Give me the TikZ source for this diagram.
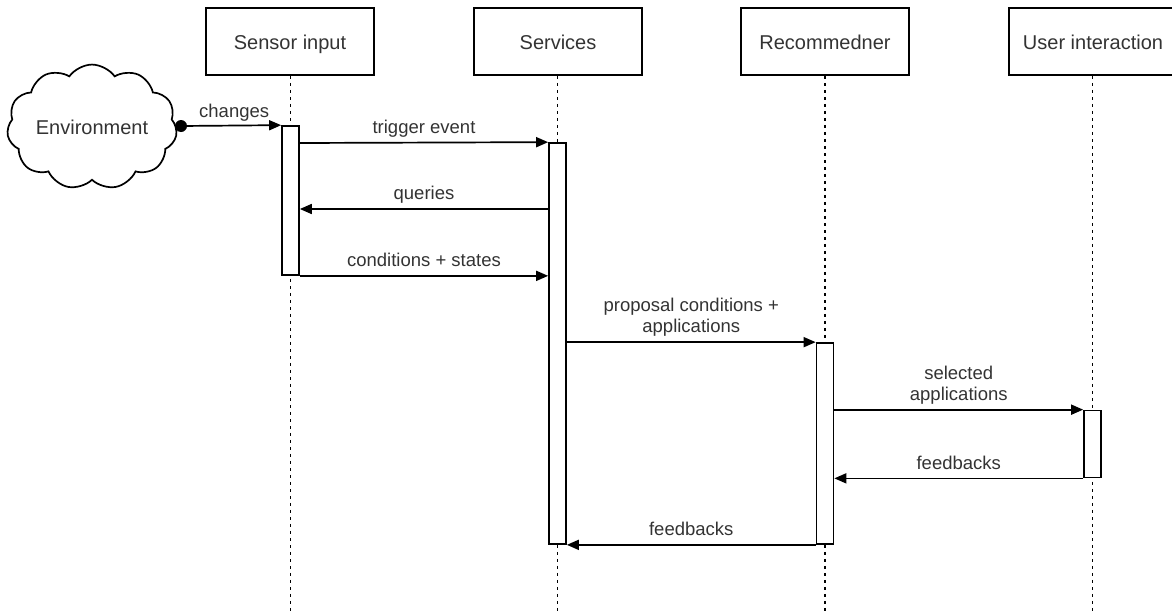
\documentclass[tikz,border=0pt]{standalone}
\usepackage{fontspec}
\setmainfont{Liberation Sans}
\usetikzlibrary{arrows.meta,shapes.symbols}
\definecolor{txt}{HTML}{333333}
\tikzset{
  head/.style={draw, line width=1.7pt, minimum width=168pt, minimum height=67pt,
    inner sep=0pt, text height=20pt, text depth=4pt, text=txt, font=\fontsize{20}{23}\selectfont},
  bar/.style={draw, fill=white, line width=1.7pt, minimum width=17pt, inner sep=0pt},
  lifeline/.style={line width=1.6pt, dash pattern=on 3.5pt off 3.5pt},
  msg/.style={line width=1.7pt, -{Triangle[length=12pt,width=10pt]}},
  lbl/.style={text=txt, font=\fontsize{18.5}{21}\selectfont, align=center, inner sep=0pt, text depth=4pt},
}
\begin{document}
\begin{tikzpicture}[x=1pt,y=-1pt]
\useasboundingbox (0,0) rectangle (1172,613);
\begin{scope}
\clip (0,0) rectangle (1172,613);

% participants
\node[head] (sen) at (290,41.5) {Sensor input};
\node[head] (svc) at (558,41.5) {Services};
\node[head] (rec) at (825,41.5) {Recommedner};
\node[head] (usr) at (1093,41.5) {User interaction};

% lifeline ends
\coordinate (senE) at (290.5,613);
\coordinate (svcE) at (557.5,613);
\coordinate (recE) at (825,613);
\coordinate (usrE) at (1092.5,613);
\draw[lifeline] (sen.south -| senE) -- (senE);
\draw[lifeline] (svc.south -| svcE) -- (svcE);
\draw[lifeline] (rec.south -| recE) -- (recE);
\draw[lifeline] (usr.south -| usrE) -- (usrE);

% activation bars
\node[bar, minimum height=149pt] (senbar) at (290.5,200.5) {};
\node[bar, minimum height=401pt] (svcbar) at (557.5,343.5) {};
\node[bar, minimum height=201pt] (recbar) at (825,443.5) {};
\node[bar, minimum height=67pt] (usrbar) at (1092.5,444) {};

% environment
\node[cloud, draw, line width=1.7pt, cloud puffs=11, cloud puff arc=110, aspect=1.5,
  minimum width=170pt, minimum height=114pt, inner sep=0pt, text=txt,
  font=\fontsize{20}{23}\selectfont] (env) at (92,127) {Environment};
\node[circle, fill, inner sep=0pt, minimum size=12pt] (dot) at (181,126) {};

% messages
\draw[msg] (dot) -- node[lbl, above=3pt] {changes} (senbar.north west);
\draw[msg] (senbar.east |- 0,143) -- node[lbl, above=4.5pt] {trigger event} (svcbar.north west);
\coordinate (q) at (0,209);
\draw[msg] (svcbar.west |- q) -- node[lbl, above=4.5pt] {queries} (senbar.east |- q);
\draw[msg] (senbar.south east) -- node[lbl, above=4.5pt] {conditions + states} (svcbar.west |- senbar.south);
\draw[msg] (svcbar.east |- recbar.north) -- node[lbl, above=4.5pt] {proposal conditions +\\applications} (recbar.north west);
\draw[msg] (recbar.east |- usrbar.north) -- node[lbl, above=4.5pt] {selected\\applications} (usrbar.north west);
\draw[msg] (usrbar.south west) -- node[lbl, above=4.5pt] {feedbacks} (recbar.east |- usrbar.south);
\draw[msg] (recbar.south west) -- node[lbl, above=4.5pt] {feedbacks} (svcbar.east |- recbar.south);
\end{scope}
\end{tikzpicture}
\end{document}
